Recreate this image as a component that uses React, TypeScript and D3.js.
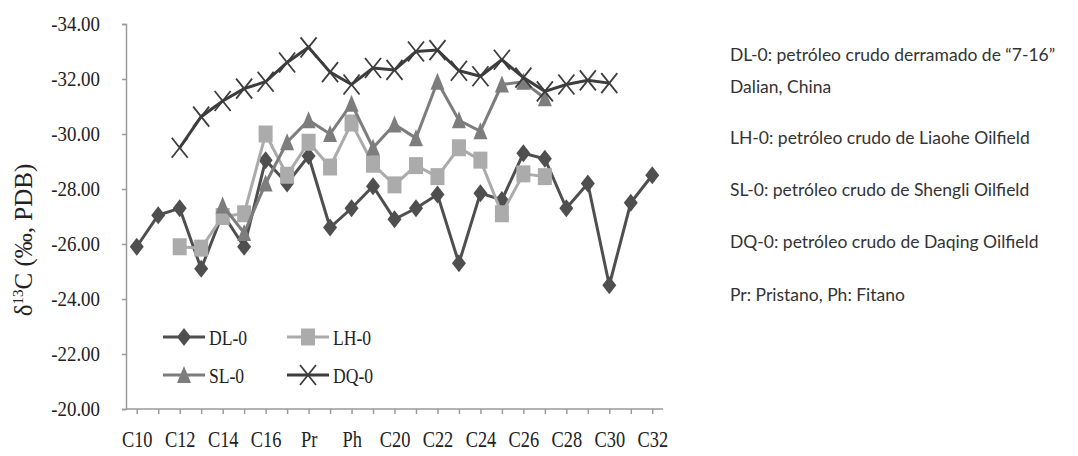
import React, { useEffect, useRef } from 'react';
import * as d3 from 'd3';

// carbon chain categories on the x axis
const categories = [
	'C10', 'C11', 'C12', 'C13', 'C14', 'C15', 'C16', 'C17', 'Pr', 'C18', 'Ph', 'C19', 'C20',
	'C21', 'C22', 'C23', 'C24', 'C25', 'C26', 'C27', 'C28', 'C29', 'C30', 'C31', 'C32',
];
const yTicks = [-34, -32, -30, -28, -26, -24, -22, -20];

// δ13C values per oil sample (null = not measured)
const dl0 = [
	-25.9, -27.05, -27.3, -25.1, -27.1, -25.9, -29.05, -28.2, -29.2, -26.6, -27.3, -28.1, -26.9,
	-27.3, -27.8, -25.3, -27.85, -27.6, -29.3, -29.1, -27.3, -28.2, -24.5, -27.5, -28.5,
];
const lh0 = [
	null, null, -25.9, -25.85, -27.0, -27.1, -30.0, -28.5, -29.7, -28.8, -30.4, -28.9, -28.15,
	-28.85, -28.45, -29.5, -29.05, -27.1, -28.55, -28.45, null, null, null, null, null,
];
const sl0 = [
	null, null, null, null, -27.4, -26.4, -28.2, -29.7, -30.5, -30.0, -31.1, -29.5, -30.35,
	-29.85, -31.9, -30.5, -30.1, -31.8, -31.9, -31.3, null, null, null, null, null,
];
const dq0 = [
	null, null, -29.5, -30.63, -31.2, -31.65, -31.9, -32.6, -33.15, -32.25, -31.8, -32.4, -32.33,
	-33.0, -33.05, -32.3, -32.1, -32.7, -32.05, -31.55, -31.8, -31.95, -31.85, null, null,
];

const notes = [
	['DL-0: petróleo crudo derramado de “7-16”', 'Dalian, China'],
	['LH-0: petróleo crudo de Liaohe Oilfield'],
	['SL-0: petróleo crudo de Shengli Oilfield'],
	['DQ-0: petróleo crudo de Daqing Oilfield'],
	['Pr: Pristano, Ph: Fitano'],
];

type Marker = 'diamond' | 'square' | 'triangle' | 'x';
const series: { name: string; values: (number | null)[]; color: string; marker: Marker }[] = [
	{ name: 'DL-0', values: dl0, color: '#4f4f4f', marker: 'diamond' },
	{ name: 'LH-0', values: lh0, color: '#ababab', marker: 'square' },
	{ name: 'SL-0', values: sl0, color: '#7d7d7d', marker: 'triangle' },
	{ name: 'DQ-0', values: dq0, color: '#3d3d3d', marker: 'x' },
];

const markerPath = (m: Marker) => {
	if (m === 'diamond') return 'M0,-9L7,0L0,9L-7,0Z';
	if (m === 'square') return 'M-7,-8.5H7V8.5H-7Z';
	if (m === 'triangle') return 'M0,-9L7,8L-7,8Z';
	return 'M-8,-10L8,10M-8,10L8,-10';
};

// squeeze text horizontally around its own box
const squeeze = (sel: d3.Selection<any, any, any, any>, sx: number, origin: string) =>
	sel
		.style('transform-box', 'fill-box')
		.style('transform-origin', origin)
		.style('transform', `scaleX(${sx})`);

const App: React.FC = () => {
	const svgRef = useRef<SVGSVGElement>(null);
	const width = 1078;
	const height = 456;

	useEffect(() => {
		document.body.style.margin = '0';
		const svg = d3.select(svgRef.current);
		svg.selectAll('*').remove();

		const serif = '"Liberation Serif", "Times New Roman", serif';
		const x = d3.scalePoint<string>().domain(categories).range([126, 663]).padding(0.5);
		const y = d3.scaleLinear().domain([-20, -34]).range([409, 24]);

		// y axis
		const yAxis = svg
			.append('g')
			.attr('transform', 'translate(126,0)')
			.call(
				d3
					.axisLeft(y)
					.tickValues(yTicks)
					.tickSize(4)
					.tickPadding(22)
					.tickFormat((d) => (d as number).toFixed(2))
			);
		// x axis
		const xAxis = svg
			.append('g')
			.attr('transform', 'translate(0,409)')
			.call(
				d3
					.axisBottom(x)
					.tickSize(5)
					.tickPadding(17)
					.tickFormat((d, i) => (i % 2 === 0 ? d : ''))
			);
		[yAxis, xAxis].forEach((ax) => {
			ax.selectAll('path, line').attr('stroke', '#9a9a9a').attr('stroke-width', 1.5);
			ax.selectAll('text').attr('fill', '#222').style('font-family', serif);
		});
		squeeze(yAxis.selectAll('text').style('font-size', '21px'), 0.9, 'right center');
		squeeze(xAxis.selectAll('text').style('font-size', '23px'), 0.8, 'center');
		xAxis.select('.domain').attr('d', 'M126,0H663');

		// y axis title
		const title = svg
			.append('text')
			.attr('transform', 'translate(32,240) rotate(-90)')
			.attr('text-anchor', 'middle')
			.style('font-family', serif)
			.style('font-size', '25px')
			.attr('fill', '#222');
		title.append('tspan').text('δ');
		title.append('tspan').attr('font-size', '15px').attr('dy', -9).text('13');
		title.append('tspan').attr('dy', 9).text('C (‰, PDB)');

		// lines and markers
		const line = d3
			.line<number | null>()
			.defined((d) => d !== null)
			.x((_, i) => x(categories[i]) as number)
			.y((d) => y(d as number));

		series.forEach((s) => {
			svg
				.append('path')
				.attr('d', line(s.values) as string)
				.attr('fill', 'none')
				.attr('stroke', s.color)
				.attr('stroke-width', 3);
			svg
				.append('g')
				.selectAll('path')
				.data(s.values.map((v, i) => ({ v, c: categories[i] })).filter((d) => d.v !== null))
				.enter()
				.append('path')
				.attr('transform', (d) => `translate(${x(d.c)},${y(d.v as number)})`)
				.attr('d', markerPath(s.marker))
				.attr('fill', s.marker === 'x' ? 'none' : s.color)
				.attr('stroke', s.color)
				.attr('stroke-width', s.marker === 'x' ? 1.8 : 0);
		});

		// legend
		const legend = svg.append('g');
		series.forEach((s, i) => {
			const lx = i % 2 === 0 ? 163 : 287;
			const ly = i < 2 ? 337 : 375;
			const g = legend.append('g').attr('transform', `translate(${lx},${ly})`);
			g.append('line').attr('x1', 0).attr('x2', 42).attr('stroke', s.color).attr('stroke-width', 3);
			g.append('path')
				.attr('transform', 'translate(21,0)')
				.attr('d', markerPath(s.marker))
				.attr('fill', s.marker === 'x' ? 'none' : s.color)
				.attr('stroke', s.color)
				.attr('stroke-width', s.marker === 'x' ? 1.8 : 0);
			const label = g
				.append('text')
				.attr('x', 46)
				.attr('dy', '0.35em')
				.style('font-family', serif)
				.style('font-size', '22px')
				.attr('fill', '#222')
				.text(s.name);
			squeeze(label, 0.8, 'left center');
		});

		// notes on the right
		const noteTops = [55, 138, 190, 242, 295];
		notes.forEach((lines, i) => {
			lines.forEach((t, j) => {
				svg
					.append('text')
					.attr('x', 730)
					.attr('y', noteTops[i] + j * 32)
					.attr('dy', '0.35em')
					.style('font-family', 'Lato, "Open Sans", sans-serif')
					.style('font-size', '17.5px')
					.attr('fill', '#333')
					.text(t);
			});
		});
	}, []);

	return <svg ref={svgRef} width={width} height={height} style={{ display: 'block', background: '#fff' }} />;
};

export default App;
